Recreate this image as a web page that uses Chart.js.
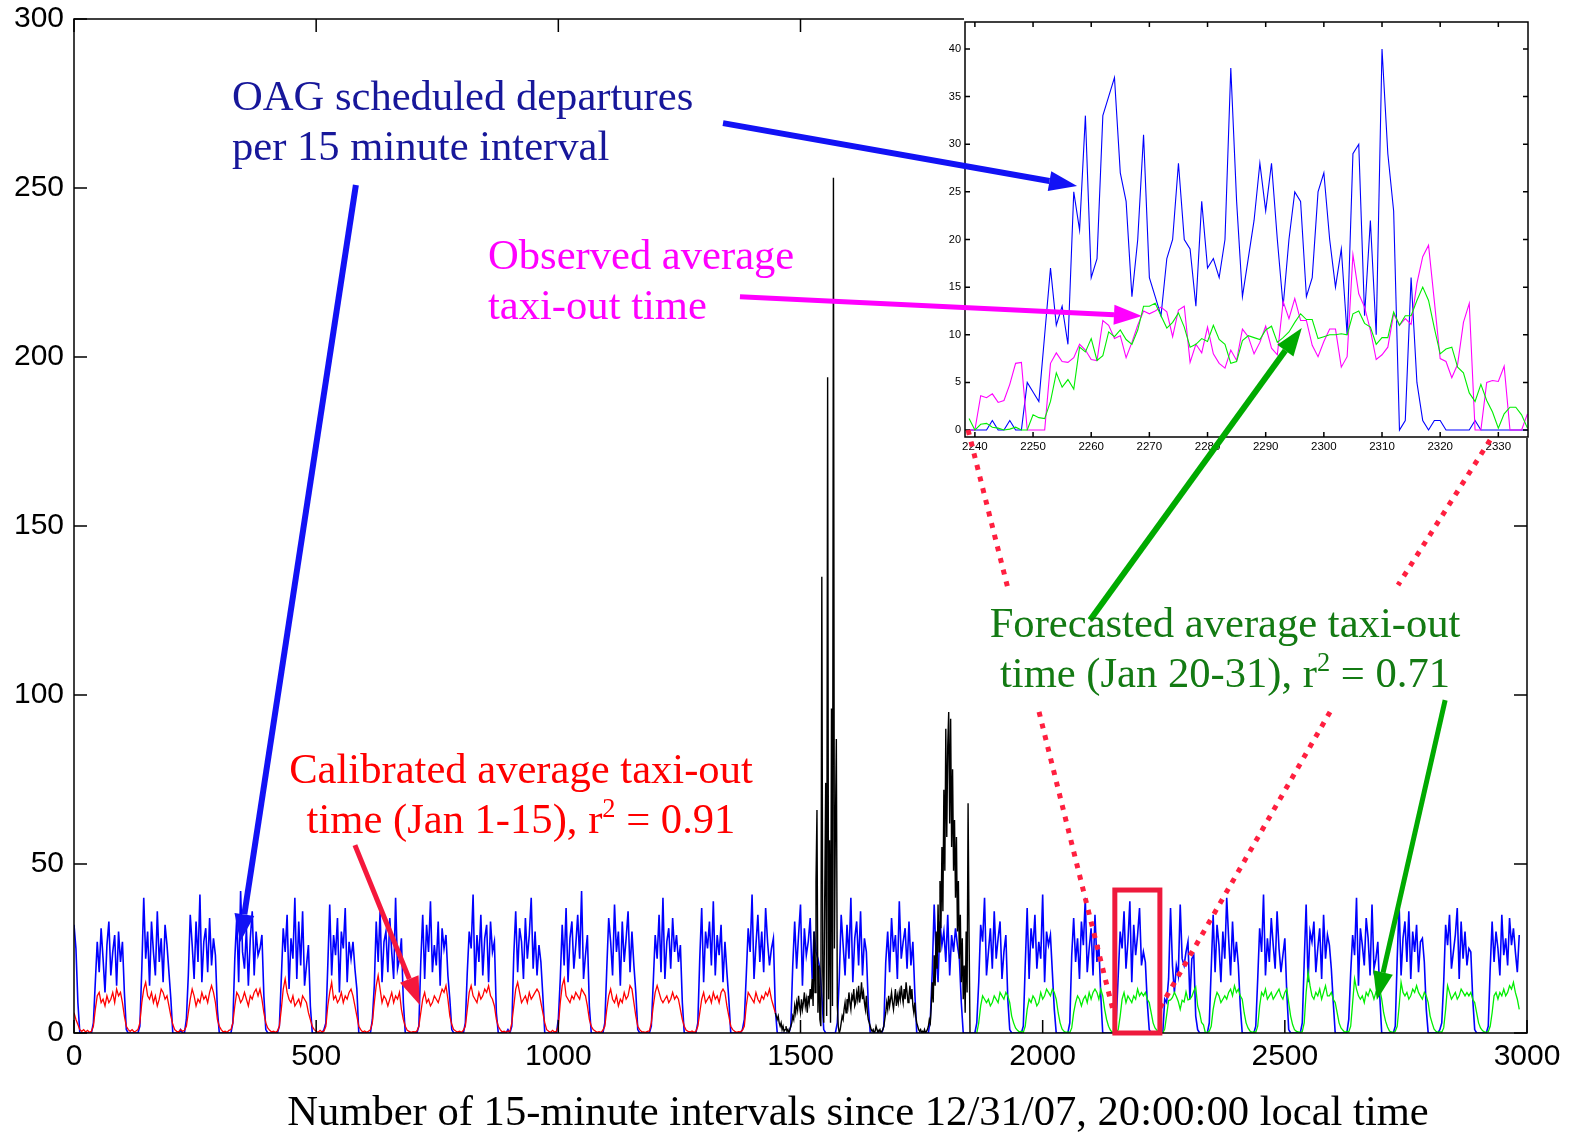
<!DOCTYPE html>
<html lang="en">
<head>
<meta charset="UTF-8">
<title>Taxi-out time vs OAG scheduled departures</title>
<script src="https://cdn.jsdelivr.net/npm/chart.js"></script>
<style>
  body { margin: 0; background: #fff; overflow: hidden; }
  #wrap { position: relative; width: 1570px; height: 1135px; }
  #wrap canvas { position: absolute; }
  #mainChart { left: 0; top: 0; }
  #zoomChart { left: 905px; top: 0; }
  #marks { left: 0; top: 0; pointer-events: none; }
  .note {
    position: absolute; white-space: nowrap;
    font-family: "Liberation Serif", "Times New Roman", serif;
    font-size: 42.6px; line-height: 50px;
  }
  .mid { transform: translateX(-50%); text-align: center; }
  .sup { font-size: 0.62em; position: relative; top: -0.62em; line-height: 0; }
</style>
</head>
<body>
<div id="wrap">
  <canvas id="mainChart" width="1570" height="1135"></canvas>
  <canvas id="zoomChart" width="640" height="470"></canvas>
  <canvas id="marks" width="1570" height="1135"></canvas>

  <div class="note" style="left:232px; top:71px; color:#17179a;">OAG scheduled departures<br>per 15 minute interval</div>
  <div class="note" style="left:488px; top:230px; color:#ff00ff;">Observed average<br>taxi-out time</div>
  <div class="note mid" style="left:1225px; top:598px; color:#137a13;">Forecasted average taxi-out<br>time (Jan 20-31), r<span class="sup">2</span> = 0.71</div>
  <div class="note mid" style="left:521px; top:744px; color:#ff0000;">Calibrated average taxi-out<br>time (Jan 1-15), r<span class="sup">2</span> = 0.91</div>
  <div class="note mid" style="left:858px; top:1086px; color:#000;">Number of 15-minute intervals since 12/31/07, 20:00:00 local time</div>
</div>

<script>
// ticks
const mainXTicks = [0, 500, 1000, 1500, 2000, 2500, 3000];
const mainYTicks = [0, 50, 100, 150, 200, 250, 300];
const insetXTicks = [2240, 2250, 2260, 2270, 2280, 2290, 2300, 2310, 2320, 2330];
const insetYTicks = [0, 5, 10, 15, 20, 25, 30, 35, 40];

// one row per day, read every 4th interval (interval 0,4,...,92 of the day, day starts 20:00)
const oagByDay = [
  [32,25,9,0, 0,0,0,0,0,0, 3, 15,27,18,31,22,12,26,33,17,24,29,14,30],
  [21,27,12,1, 0,0,0,0,0,0, 2, 19,40,22,30,14,33,24,17,36,21,28,15,32],
  [26,18,10,0, 0,0,0,1,0,0, 4, 17,35,26,16,33,21,41,15,27,31,18,34,20],
  [28,23,7,0, 0,0,0,0,0,0, 3, 22,34,15,42,24,19,31,14,28,36,17,30,23],
  [25,29,11,1, 0,0,0,0,0,0, 2, 16,31,24,35,13,28,22,40,16,33,20,36,14],
  [20,26,8,0, 0,0,0,0,0,1, 3, 20,38,17,29,23,34,12,30,25,37,15,27,22],
  [27,19,13,0, 0,0,0,0,0,0, 4, 14,33,21,36,15,27,30,18,34,24,16,40,19],
  [22,28,9,0, 0,0,0,0,0,0, 2, 21,35,16,32,24,39,18,26,20,33,14,31,25],
  [29,17,10,1, 0,0,0,0,0,0, 3, 18,30,25,41,14,29,21,35,17,28,32,15,33],
  [24,27,6,0, 0,0,0,0,1,0, 2, 23,36,18,31,27,16,34,22,29,40,19,30,17],
  [26,21,11,0, 0,0,0,0,0,0, 4, 16,32,20,37,15,28,33,19,26,35,22,42,16],
  [23,29,8,0, 0,0,0,0,0,0, 3, 19,34,27,17,38,24,30,14,33,21,28,36,18],
  [30,20,12,1, 0,0,0,0,0,0, 2, 15,29,22,35,18,40,16,27,31,19,34,24,29],
  [21,26,9,0, 0,0,0,0,0,0, 3, 22,37,15,30,25,33,20,39,17,29,23,32,15],
  [27,18,10,0, 0,0,0,0,0,1, 4, 17,31,24,41,16,26,35,21,30,18,37,27,20],
  [25,28,7,0, 0,0,0,0,0,0, 2, 20,33,19,29,38,14,31,23,27,34,16,30,24],
  [22,19,11,1, 0,0,0,0,0,0, 3, 16,35,26,17,32,22,40,15,28,33,20,36,17],
  [28,24,8,0, 0,0,0,0,0,0, 2, 21,30,18,34,24,29,16,39,22,27,31,19,33],
  [20,27,12,0, 0,0,0,0,0,0, 4, 18,38,23,15,33,26,30,21,35,17,29,24,31],
  [26,22,9,0, 0,0,0,0,0,0, 3, 15,32,27,40,17,24,31,19,36,22,28,33,16],
  [24,29,10,1, 0,0,0,0,0,0, 2, 20,37,16,31,25,35,19,27,22,41,15,30,26],
  [29,18,7,0, 0,0,0,0,0,0, 3, 23,34,21,28,16,33,26,40,18,25,31,17,35],
  [21,26,11,0, 0,0,0,0,0,0, 4, 17,30,25,36,19,27,39,15,32,23,29,37,20],
  [24,21,9,1, 0,0,0,0,0,0, 0, 10,9,16,37,20,12,20,17,38,22,20,24,27],
  [10,22,23,5, 1,0,0,0,0,0, 3, 19,35,18,32,26,15,30,22,40,28,17,33,21],
  [27,20,8,0, 0,0,0,0,0,0, 2, 16,31,24,41,17,28,21,34,26,19,36,25,18],
  [23,28,12,1, 0,0,0,0,0,0, 3, 21,38,15,30,27,33,18,25,31,16,35,22,29],
  [26,19,9,0, 0,0,0,0,0,0, 4, 18,29,23,40,14,31,26,20,34,28,17,38,19],
  [22,27,11,0, 0,0,0,0,0,0, 2, 22,38,17,28,33,21,36,16,30,24,32,18,27],
  [28,21,7,0, 0,0,0,0,0,1, 3, 15,32,26,35,19,24,29,37,16,33,22,30,20],
  [25,24,10,1, 0,0,0,0,0,0, 2, 19,33,21,30,25,17,35,23,28,20,34,26,31]
];
const oagTail = [24, 18, 29];

// calibrated average taxi-out time, Jan 1-15 (same layout as above)
const calibratedByDay = [
  [6,4,2.5,1, 0.5,1,0.3,0.8,0.2,0.5, 2, 7,11,12,9,10,8,11,9,10,12,9,13,11],
  [12,9,5,2, 1,0.5,1,0.3,0.6,1, 3, 9,13,15,11,10,12,9,11,8,10,13,12,10],
  [11,8,5,2.5, 1,0.5,0.3,1,0.5,0.8, 2, 6,10,13,11,8,10,9,12,10,11,9,12,14],
  [12,9,4,2, 1,0.3,0.5,0.2,0.8,1, 3, 8,12,11,9,10,12,10,8,11,10,12,13,11],
  [13,10,6,3, 1.5,0.8,0.3,0.5,0.2,0.6, 2, 7,13,16,12,10,9,11,8,9,10,8,11,10],
  [9,6,4,2, 1,0.5,0.2,0.8,0.3,0.5, 2, 8,12,15,10,11,9,10,12,9,11,10,12,13],
  [11,8,5,2, 1,0.3,0.6,0.2,0.5,1, 3, 9,14,17,13,9,11,10,8,10,12,9,11,10],
  [12,7,4,2, 0.8,0.5,0.2,0.4,0.3,0.6, 2, 6,10,12,9,10,8,9,11,10,9,11,13,12],
  [14,10,5,2.5, 1,0.6,0.3,0.5,0.2,0.8, 2, 7,12,14,11,10,9,12,10,11,13,12,14,11],
  [10,8,4,2, 1,0.3,0.5,0.2,0.6,0.4, 3, 8,13,15,12,9,10,11,9,12,10,11,12,13],
  [12,9,6,3, 1,0.5,0.2,0.8,0.3,0.5, 2, 9,14,16,11,10,9,11,10,12,11,10,13,12],
  [11,8,4,2, 1,0.6,0.2,0.4,0.2,0.8, 2, 7,11,13,10,9,11,8,10,9,12,10,11,14],
  [13,9,5,2, 1,0.4,0.3,0.2,0.5,0.6, 3, 8,12,14,12,10,9,10,11,9,10,12,10,11],
  [10,7,4,2, 0.8,0.5,0.3,0.6,0.2,0.5, 2, 6,10,12,9,10,11,9,12,10,11,9,12,13],
  [12,8,5,2, 1,0.5,0.2,0.4,0.3,0.8, 2, 8,12,11,10,9,12,10,9,11,10,12,11,13]
];
const calibratedTail = [10, 8, 6];

// observed average taxi-out between the two periods, every 2nd interval from 1448
const observedStart = 1448;
const observedMid = [
  6,5,4,5,3,2,3,1,2,0.5,
  1,2,0.5,1,0,1,2,3,5,4,
  8,6,9,7,11,8,6,10,7,9,
  12,8,10,6,11,9,13,10,16,8,
  30,12,45,66,6,20,4,2,135,18,
  3,40,74,5,194,10,57,3,96,8,
  253,25,60,87,8,2,0,1,3,5,
  4,7,9,6,10,8,12,9,7,11,
  10,13,8,9,12,10,14,9,11,15,
  10,12,9,7,11,6,4,3,2,1,
  0.5,1,0,0.5,2,1,0,0.5,1,0,
  0.5,1,2,4,6,9,7,11,8,10,
  12,9,7,10,13,8,11,9,12,10,
  14,11,9,13,10,15,12,9,11,14,
  10,13,8,6,9,5,3,2,1,0.5,
  1,0,0.5,0,1,0,0.5,1,2,4,
  3,8,15,9,23,14,30,19,38,24,
  45,31,55,36,72,48,90,58,85,95,
  62,93,55,78,48,63,40,58,30,45,
  22,35,15,28,10,20,6,30,12,68,
  30,0,0
];

// forecasted average taxi-out, Jan 20-31
const forecastStart = 1864;
const forecastFirstDay = [0,3,8,11,10,9,10,8,9,11,10,9,12,11];
const forecastByDay = [
  [10,12,11,9, 5,3,1.5,0.8,0.3,0.5, 0.2, 2,7,10,9,11,10,8,9,12,10,11,13,12],
  [11,13,12,10, 6,3,1.2,0.5,0.2,0.3, 0.1, 1.5,6,9,11,10,8,10,11,9,12,10,12,13],
  [12,10,13,11, 7,4,2,0.8,0.2,0.5, 0.3, 1,5,10,12,9,11,10,9,11,10,13,11,12],
  [11,12,10,9, 6,3,1.5,0.8,0,0.2, 0, 1.2,5.3,9.6,9.8,10.5,12,10.8,9.3,7,9.7,9.2,12.2,9.8],
  [10,10.8,12.4,13.6, 8,6,3.1,2.4,0,0.3, 0.5, 2,7,10,12,11,9,10,11,10,12,13,11,14],
  [12,13,11,10, 6,3,1.5,0.6,0.2,0.4, 0.2, 2,8,12,11,13,10,11,12,10,11,12,13,11],
  [10,12,13,9, 5,2.5,1,0.5,0.3,0.2, 0.4, 3,12,18,14,11,10,12,11,13,10,12,14,11],
  [11,12,10,9, 6,3,1.5,0.8,0.2,0.5, 0.3, 2,9,16,13,11,10,11,9,12,11,13,12,10],
  [12,11,13,10, 6,3.5,1.8,0.6,0.3,0.2, 0.5, 2,8,15,12,11,12,10,11,13,12,14,12,11],
  [10,12,11,9, 5,3,1.2,0.5,0.2,0.4, 0.2, 1.5,7,14,12,10,11,12,10,11,13,12,11,12],
  [11,12,10,9, 6,3,1.5,0.7,0.3,0.2, 0.4, 2,6,11,12,10,12,11,13,11,12,14,13,15]
];
const forecastTail = [12, 10, 7];

// inset: every interval from 2239 to 2335
const insetStart = 2239;
const insetOag = [
  0,0,0,0,1,0,0,1,0,0,
  5,4,3,10,17,11,13,9,25,21,
  33,16,18,33,35,37,27,24,14,20,
  31,16,14,12,18,20,28,20,19,13,
  24,17,18,16,20,38,24,14,18,22,
  28,23,28,20,13,20,25,24,14,16,
  25,27,20,15,19,10,29,30,12,22,
  10,40,29,23,0,1,16,5,1,0,
  1,1,0,0,0,0,0,1,0,0,
  0,0,0,0,0,0,0
];
const insetObserved = [
  0,0,3.6,3.4,3.8,2.9,3.1,4.8,7.0,7.1,
  0,0,0,0,7.0,8.1,7.2,7.1,7.6,9.0,
  8.4,7.4,7.3,11.5,11.0,9.6,9.9,7.6,9.2,11.0,
  12.5,12.2,12.5,12.9,12.4,9.8,12.6,13.0,7.1,9.0,
  8.1,10.8,8.0,7.0,6.5,8.4,7.3,10.6,9.8,8.0,
  9.2,10.9,8.6,7.9,13.5,11.7,13.8,11.5,11.5,8.9,
  7.7,9.3,10.6,10.6,6.6,7.7,18.4,14.3,12.9,10.5,
  7.4,7.9,8.7,12.2,11.0,11.7,11.1,15.4,18.2,19.4,
  13.5,7.5,7.2,5.5,6.9,11.3,13.3,0,0,5.0,
  5.2,5.1,6.7,0,0,0,1.7
];
const insetForecast = [
  1.2,0,0.6,0.7,0.3,0.2,0,0.1,0.3,0,
  0,1.6,1.3,1.2,3.0,6.0,4.5,5.3,4.3,8.7,
  8.2,9.6,7.3,7.8,10.3,9.8,10.5,9.5,9.0,10.5,
  13.0,13.0,13.3,12.0,10.7,11.3,12.3,10.8,8.7,9.0,
  9.6,9.3,11.0,9.5,9.0,7.0,7.2,9.4,9.9,9.7,
  9.5,10.5,10.9,9.2,9.7,10.3,11.3,12.2,11.6,11.6,
  9.6,9.8,10.0,10.0,10.1,10.0,12.2,12.5,11.2,10.8,
  9.0,9.7,9.7,12.4,11.0,12.0,12.0,13.6,15.0,13.6,
  10.7,8.0,8.5,8.7,6.6,6.0,3.9,3.0,4.8,3.1,
  1.9,0.2,1.7,2.4,2.4,1.6,0.2
];

// points on the interval axis
function toPoints(start, step, vals) {
  return vals.map((v, i) => ({ x: start + i * step, y: v }));
}

const tickFont = { family: "'Liberation Sans', Arial, sans-serif", size: 30 };

function lineSet(data, color, width, order) {
  return { data: data, borderColor: color, borderWidth: width, pointRadius: 0,
           tension: 0, fill: false, order: order };
}

// frame with inward ticks on all four sides
function framePlugin(id, tickLen, lw) {
  return {
    id: id,
    afterDatasetsDraw(chart) {
      const { ctx, chartArea: a, scales } = chart;
      ctx.save();
      ctx.strokeStyle = '#000';
      ctx.lineWidth = lw;
      ctx.strokeRect(a.left, a.top, a.right - a.left, a.bottom - a.top);
      ctx.beginPath();
      scales.x.ticks.forEach(t => {
        const px = scales.x.getPixelForValue(t.value);
        ctx.moveTo(px, a.bottom); ctx.lineTo(px, a.bottom - tickLen);
        ctx.moveTo(px, a.top); ctx.lineTo(px, a.top + tickLen);
      });
      scales.y.ticks.forEach(t => {
        const py = scales.y.getPixelForValue(t.value);
        ctx.moveTo(a.left, py); ctx.lineTo(a.left + tickLen, py);
        ctx.moveTo(a.right, py); ctx.lineTo(a.right - tickLen, py);
      });
      ctx.stroke();
      ctx.restore();
    }
  };
}

const mainChart = new Chart(document.getElementById('mainChart'), {
  type: 'line',
  data: {
    datasets: [
      lineSet(toPoints(forecastStart, 4, forecastFirstDay.concat(forecastByDay.flat(), forecastTail)), '#00ee00', 1.3, 1),
      lineSet(toPoints(0, 4, calibratedByDay.flat().concat(calibratedTail)), '#ff0000', 1.3, 2),
      lineSet(toPoints(observedStart, 2, observedMid), '#000000', 1.4, 3),
      lineSet(toPoints(0, 4, oagByDay.flat().concat(oagTail)), '#0000ff', 1.6, 4)
    ]
  },
  options: {
    responsive: false,
    animation: false,
    layout: { autoPadding: false, padding: { top: 19, right: 43, left: 0, bottom: 0 } },
    plugins: { legend: { display: false }, tooltip: { enabled: false } },
    scales: {
      x: {
        type: 'linear', min: 0, max: 3000,
        afterBuildTicks: ax => { ax.ticks = mainXTicks.map(v => ({ value: v })); },
        afterFit: ax => { ax.height = 102; },
        grid: { display: false, drawTicks: false },
        border: { display: false },
        ticks: { font: tickFont, color: '#000', padding: 6, maxRotation: 0, autoSkip: false,
                 callback: v => String(v) }
      },
      y: {
        min: 0, max: 300,
        afterBuildTicks: ax => { ax.ticks = mainYTicks.map(v => ({ value: v })); },
        afterFit: ax => { ax.width = 74; ax.paddingTop = 0; ax.paddingBottom = 0; },
        grid: { display: false, drawTicks: false },
        border: { display: false },
        ticks: { font: tickFont, color: '#000', padding: 10, callback: v => String(v) }
      }
    }
  },
  plugins: [framePlugin('mainFrame', 13, 1.5)]
});

const zoomChart = new Chart(document.getElementById('zoomChart'), {
  type: 'line',
  data: {
    datasets: [
      lineSet(toPoints(insetStart, 1, insetForecast), '#00ee00', 1.1, 1),
      lineSet(toPoints(insetStart, 1, insetObserved), '#ff00ff', 1.1, 2),
      lineSet(toPoints(insetStart, 1, insetOag), '#0000ff', 1.1, 3)
    ]
  },
  options: {
    responsive: false,
    animation: false,
    layout: { autoPadding: false, padding: { top: 22, right: 17, left: 0, bottom: 0 } },
    plugins: { legend: { display: false }, tooltip: { enabled: false } },
    scales: {
      x: {
        type: 'linear', min: 2238.3, max: 2335.1,
        afterBuildTicks: ax => { ax.ticks = insetXTicks.map(v => ({ value: v })); },
        afterFit: ax => { ax.height = 33; },
        grid: { display: false, drawTicks: false },
        border: { display: false },
        ticks: { font: { family: "'Liberation Sans', Arial, sans-serif", size: 11.5 }, color: '#000',
                 padding: 3, maxRotation: 0, autoSkip: false, callback: v => String(v) }
      },
      y: {
        min: -0.73, max: 42.83,
        afterBuildTicks: ax => { ax.ticks = insetYTicks.map(v => ({ value: v })); },
        afterFit: ax => { ax.width = 60; ax.paddingTop = 0; ax.paddingBottom = 0; },
        grid: { display: false, drawTicks: false },
        border: { display: false },
        ticks: { font: { family: "'Liberation Sans', Arial, sans-serif", size: 11 }, color: '#000',
                 padding: 4, callback: v => String(v) }
      }
    }
  },
  plugins: [
    {
      id: 'insetBg',
      beforeDraw(chart) {
        const { ctx, chartArea: a } = chart;
        ctx.save();
        ctx.fillStyle = '#fff';
        ctx.fillRect(a.left - 1, 0, a.right - a.left + 4, a.bottom + 1);
        ctx.restore();
      }
    },
    framePlugin('insetFrame', 5, 1.5)
  ]
});

// annotations, in main-chart data units
const arrows = [
  { from: [1340, 269.2], to: [2071, 250.6], color: '#1212f5', w: 6 },
  { from: [582, 250.9], to: [343, 26.9], color: '#1212f5', w: 6 },
  { from: [1375, 217.8], to: [2205, 212.1], color: '#ff00ff', w: 5 },
  { from: [2098, 122.2], to: [2535, 208.6], color: '#00aa00', w: 6 },
  { from: [2831, 98.5], to: [2690, 9.8], color: '#00aa00', w: 5 },
  { from: [580, 55.6], to: [714, 8.3], color: '#f5183c', w: 5 }
];
const dottedSegs = [
  [[1846, 178.4], [1929, 131.1]],
  [[1992.5, 95.0], [2145.2, 6.8]],
  [[2923.7, 175.4], [2733.7, 132.5]],
  [[2593.3, 95.0], [2236, 5.9]]
];
const zoomBox = { x0: 2149, x1: 2242, y0: 0, y1: 42.3 };

function drawMarks() {
  const ctx = document.getElementById('marks').getContext('2d');
  const sx = mainChart.scales.x, sy = mainChart.scales.y;
  const P = p => [sx.getPixelForValue(p[0]), sy.getPixelForValue(p[1])];

  // dotted lines from inset to box
  ctx.save();
  ctx.strokeStyle = '#ff1f3f';
  ctx.lineWidth = 5;
  ctx.setLineDash([5, 7]);
  dottedSegs.forEach(s => {
    const a = P(s[0]), b = P(s[1]);
    ctx.beginPath(); ctx.moveTo(a[0], a[1]); ctx.lineTo(b[0], b[1]); ctx.stroke();
  });
  ctx.restore();

  // zoom box
  const b0 = P([zoomBox.x0, zoomBox.y1]), b1 = P([zoomBox.x1, zoomBox.y0]);
  ctx.save();
  ctx.strokeStyle = '#ee1a3c';
  ctx.lineWidth = 5;
  ctx.strokeRect(b0[0], b0[1], b1[0] - b0[0], b1[1] - b0[1]);
  ctx.restore();

  // arrows
  arrows.forEach(ar => {
    const a = P(ar.from), b = P(ar.to);
    const ang = Math.atan2(b[1] - a[1], b[0] - a[0]);
    const hl = 28, hw = 10;
    const bx = b[0] - hl * Math.cos(ang), by = b[1] - hl * Math.sin(ang);
    ctx.save();
    ctx.strokeStyle = ar.color; ctx.fillStyle = ar.color;
    ctx.lineWidth = ar.w;
    ctx.beginPath(); ctx.moveTo(a[0], a[1]); ctx.lineTo(bx, by); ctx.stroke();
    ctx.beginPath();
    ctx.moveTo(b[0], b[1]);
    ctx.lineTo(bx + hw * Math.sin(ang), by - hw * Math.cos(ang));
    ctx.lineTo(bx - hw * Math.sin(ang), by + hw * Math.cos(ang));
    ctx.closePath(); ctx.fill();
    ctx.restore();
  });
}
drawMarks();
</script>
</body>
</html>
